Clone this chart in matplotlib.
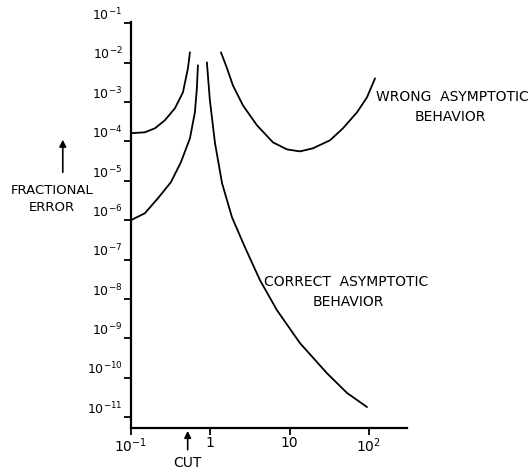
import numpy as np
import matplotlib
matplotlib.use("Agg")
import matplotlib.pyplot as plt

plt.rcParams['font.family'] = ['DejaVu Sans']

# ---- data ----
# wrong asymptotic behaviour, branch left of the cut
wrong_left_x = [0.1, 0.150, 0.201, 0.268, 0.359, 0.453, 0.524, 0.555]
wrong_left_y = [1.62e-4, 1.71e-4, 2.16e-4, 3.45e-4, 6.97e-4, 1.77e-3, 7.2e-3, 1.84e-2]

# wrong asymptotic behaviour, right branch
wrong_right_x = [1.365, 1.63, 1.93, 2.58, 3.88, 6.18, 9.27, 13.5, 19.7, 32.3, 47.1, 70.8, 94.6, 119.4]
wrong_right_y = [1.84e-2, 7.2e-3, 2.67e-3, 8.3e-4, 2.58e-4, 9.5e-5, 6.3e-5, 5.6e-5, 6.7e-5,
                 1.07e-4, 2.16e-4, 5.5e-4, 1.32e-3, 4.0e-3]

# correct asymptotic behaviour, left branch
correct_left_x = [0.1, 0.150, 0.219, 0.319, 0.427, 0.555, 0.641, 0.679, 0.700]
correct_left_y = [1.0e-6, 1.5e-6, 3.6e-6, 9.2e-6, 2.96e-5, 1.2e-4, 5.5e-4, 2.24e-3, 8.6e-3]

# correct asymptotic behaviour, right branch
correct_right_x = [0.908, 0.99, 1.15, 1.41, 1.88, 2.74, 4.24, 6.93, 13.5, 29.6, 53.0, 94.6]
correct_right_y = [1.02e-2, 1.11e-3, 9.0e-5, 8.7e-6, 1.19e-6, 2.06e-7, 3.0e-8, 5.2e-9,
                   7.6e-10, 1.3e-10, 4.1e-11, 1.8e-11]

x_ticks = [0.1, 1, 10, 100]
x_labels = [r'$10^{-1}$', '1', '10', r'$10^{2}$']
y_ticks = [10.0**e for e in range(-11, 0)]
y_labels = [r'$10^{%d}$' % e for e in range(-11, 0)]
cut_x = 0.52

fig = plt.figure(figsize=(5.32, 4.72), dpi=100)
ax = fig.add_axes([0.246, 0.093, 0.519, 0.860])

for xs, ys in [(wrong_left_x, wrong_left_y), (wrong_right_x, wrong_right_y),
               (correct_left_x, correct_left_y), (correct_right_x, correct_right_y)]:
    ax.plot(xs, ys, color='black', lw=1.3, solid_capstyle='round', solid_joinstyle='round')

ax.set_xscale('log')
ax.set_yscale('log')
ax.set_xlim(0.1, 10**2.48)
ax.set_ylim(10**-11.28, 10**-0.97)

for s in ['top', 'right']:
    ax.spines[s].set_visible(False)
for s in ['left', 'bottom']:
    ax.spines[s].set_linewidth(1.6)

ax.set_xticks(x_ticks)
ax.set_xticklabels(x_labels, fontsize=10)
ax.set_yticks(y_ticks)
ax.set_yticklabels(y_labels, fontsize=9)
ax.minorticks_off()
ax.tick_params(axis='both', direction='out', length=5, width=1.3, pad=1)
for lab in ax.get_yticklabels():
    lab.set_verticalalignment('bottom')

# cut marker under the axis
ax.annotate('', xy=(cut_x, 0), xycoords=('data', 'axes fraction'),
            xytext=(cut_x, -0.06), textcoords=('data', 'axes fraction'),
            arrowprops=dict(arrowstyle='-|>', color='black', lw=1.2, mutation_scale=10))
ax.text(cut_x, -0.086, 'CUT', transform=ax.get_xaxis_transform(),
        ha='center', va='center', fontsize=10)

# y label with arrow
fig.text(0.098, 0.578, 'FRACTIONAL\nERROR', ha='center', va='center',
         fontsize=9.5, linespacing=1.35)
ax.annotate('', xy=(0.118, 0.710), xycoords='figure fraction',
            xytext=(0.118, 0.629), textcoords='figure fraction',
            arrowprops=dict(arrowstyle='-|>', color='black', lw=1.2, mutation_scale=10))

fig.text(0.850, 0.794, 'WRONG  ASYMPTOTIC', ha='center', va='center', fontsize=10)
fig.text(0.846, 0.752, 'BEHAVIOR', ha='center', va='center', fontsize=10)
fig.text(0.650, 0.403, 'CORRECT  ASYMPTOTIC', ha='center', va='center', fontsize=10)
fig.text(0.654, 0.360, 'BEHAVIOR', ha='center', va='center', fontsize=10)

fig.savefig('out.png', dpi=100)
